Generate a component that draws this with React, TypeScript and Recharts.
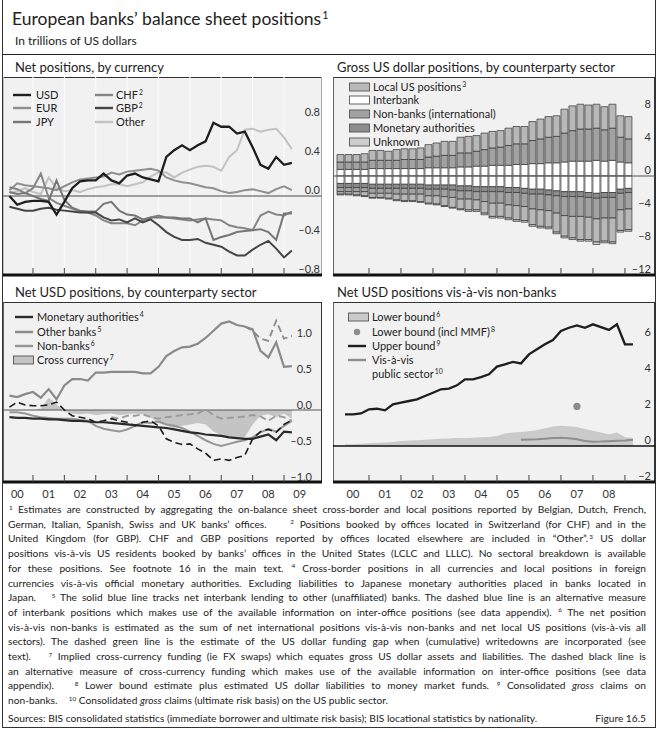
import React from 'react';
import {
  LineChart, ComposedChart, BarChart, Line, Bar, Area, Scatter,
  XAxis, YAxis, ReferenceLine, CartesianGrid,
} from 'recharts';

const FONT = 'Lato, "Open Sans", "DejaVu Sans", sans-serif';

// ---------------- time axes ----------------
const quarters = [
  2000.25, 2000.5, 2000.75, 2001, 2001.25, 2001.5, 2001.75, 2002, 2002.25, 2002.5,
  2002.75, 2003, 2003.25, 2003.5, 2003.75, 2004, 2004.25, 2004.5, 2004.75, 2005,
  2005.25, 2005.5, 2005.75, 2006, 2006.25, 2006.5, 2006.75, 2007, 2007.25, 2007.5,
  2007.75, 2008, 2008.25, 2008.5, 2008.75, 2009, 2009.25,
];
const barQuarters = [
  2000.125, 2000.375, 2000.625, 2000.875, 2001.125, 2001.375, 2001.625, 2001.875, 2002.125, 2002.375,
  2002.625, 2002.875, 2003.125, 2003.375, 2003.625, 2003.875, 2004.125, 2004.375, 2004.625, 2004.875,
  2005.125, 2005.375, 2005.625, 2005.875, 2006.125, 2006.375, 2006.625, 2006.875, 2007.125, 2007.375,
  2007.625, 2007.875, 2008.125, 2008.375, 2008.625, 2008.875, 2009.125,
];
const yearTicks = [2001, 2002, 2003, 2004, 2005, 2006, 2007, 2008, 2009];
const midYearsLeft = [2000.5, 2001.5, 2002.5, 2003.5, 2004.5, 2005.5, 2006.5, 2007.5, 2008.5, 2009.5];
const yearLabelsLeft = ['00', '01', '02', '03', '04', '05', '06', '07', '08', '09'];
const midYearsRight = [2000.5, 2001.5, 2002.5, 2003.5, 2004.5, 2005.5, 2006.5, 2007.5, 2008.5];
const yearLabelsRight = ['00', '01', '02', '03', '04', '05', '06', '07', '08'];

// ---------------- Panel 1: Net positions, by currency ----------------
const usd = [0.0, -0.09, -0.06, -0.05, -0.05, -0.06, -0.19, -0.06, 0.08, 0.15, 0.16, 0.16, 0.23, 0.16, 0.13, 0.21, 0.23, 0.19, 0.17, 0.15, 0.40, 0.47, 0.52, 0.47, 0.52, 0.56, 0.75, 0.71, 0.71, 0.64, 0.66, 0.50, 0.32, 0.28, 0.40, 0.32, 0.34];
const eur = [0.06, 0.13, 0.11, 0.10, 0.09, 0.08, 0.06, 0.10, 0.14, 0.17, 0.18, 0.19, 0.20, 0.24, 0.22, 0.25, 0.26, 0.27, 0.28, 0.26, 0.19, 0.16, 0.14, 0.13, 0.11, 0.09, 0.08, 0.05, 0.03, 0.04, 0.06, 0.07, 0.05, 0.03, 0.07, 0.10, 0.06];
const jpy = [0.04, 0.02, 0.03, 0.0, -0.03, -0.05, 0.16, -0.04, -0.12, -0.15, -0.16, -0.16, -0.08, -0.06, -0.15, -0.19, -0.20, -0.24, -0.22, -0.22, -0.22, -0.22, -0.23, -0.23, -0.27, -0.23, -0.45, -0.42, -0.40, -0.37, -0.36, -0.35, -0.34, -0.37, -0.45, -0.18, -0.18];
const chf = [0.09, 0.07, 0.03, 0.08, 0.23, -0.02, -0.07, -0.10, -0.13, -0.16, -0.17, -0.20, -0.25, -0.28, -0.28, -0.28, -0.30, -0.25, -0.22, -0.20, -0.22, -0.23, -0.24, -0.25, -0.24, -0.23, -0.24, -0.25, -0.30, -0.32, -0.33, -0.35, -0.20, -0.16, -0.19, -0.20, -0.16];
const gbp = [-0.11, -0.13, -0.15, -0.15, -0.13, -0.12, -0.14, -0.15, -0.16, -0.17, -0.17, -0.17, -0.22, -0.25, -0.24, -0.27, -0.23, -0.27, -0.24, -0.30, -0.37, -0.42, -0.45, -0.45, -0.44, -0.48, -0.50, -0.52, -0.57, -0.61, -0.61, -0.55, -0.50, -0.46, -0.54, -0.63, -0.56];
const other = [0.03, 0.05, 0.08, 0.04, 0.02, 0.19, 0.08, 0.05, 0.06, 0.04, 0.07, 0.09, 0.10, 0.12, 0.12, 0.10, 0.12, 0.14, 0.20, 0.24, 0.24, 0.19, 0.24, 0.27, 0.30, 0.31, 0.30, 0.26, 0.40, 0.47, 0.68, 0.69, 0.66, 0.68, 0.69, 0.60, 0.48];
const p1Ticks = [-0.8, -0.4, 0, 0.4, 0.8];
const p1Labels = ['\u20130.8', '\u20130.4', '0.0', '0.4', '0.8'];

// ---------------- Panel 2: Gross US dollar positions ----------------
const interbankA = [0.8, 0.8, 0.8, 0.8, 0.9, 0.9, 0.9, 0.9, 0.9, 0.9, 0.9, 1.0, 1.0, 1.0, 1.0, 1.1, 1.1, 1.2, 1.2, 1.3, 1.3, 1.3, 1.4, 1.4, 1.5, 1.5, 1.6, 1.6, 1.7, 1.8, 1.8, 1.8, 1.9, 1.8, 1.9, 1.7, 1.6];
const nonbanksA = [0.9, 0.9, 0.9, 0.9, 1.0, 1.0, 1.0, 1.0, 1.1, 1.1, 1.1, 1.3, 1.4, 1.5, 1.5, 1.7, 1.7, 1.8, 2.0, 2.1, 2.2, 2.4, 2.5, 2.5, 2.8, 3.0, 3.1, 3.2, 3.5, 3.7, 3.9, 3.9, 3.9, 3.8, 3.9, 3.0, 2.9];
const localA = [0.9, 0.9, 0.9, 1.0, 1.2, 1.2, 1.1, 1.3, 1.3, 1.3, 1.4, 1.5, 1.6, 1.7, 1.7, 1.9, 2.0, 1.9, 2.0, 2.0, 2.0, 2.1, 2.1, 2.1, 2.3, 2.4, 2.5, 2.5, 2.9, 3.0, 3.0, 2.9, 2.9, 2.8, 2.9, 2.6, 2.7];
const interbankL = [-0.9, -0.9, -0.9, -0.9, -1.0, -1.0, -1.0, -1.0, -1.0, -1.0, -1.0, -1.1, -1.1, -1.1, -1.1, -1.2, -1.2, -1.3, -1.3, -1.3, -1.3, -1.4, -1.4, -1.5, -1.6, -1.6, -1.7, -1.8, -1.9, -1.9, -1.9, -2.0, -2.1, -2.0, -2.0, -1.6, -1.5];
const monetaryL = [-0.5, -0.5, -0.5, -0.5, -0.5, -0.5, -0.5, -0.5, -0.5, -0.5, -0.5, -0.5, -0.5, -0.5, -0.6, -0.6, -0.6, -0.6, -0.6, -0.6, -0.6, -0.6, -0.6, -0.6, -0.6, -0.6, -0.6, -0.6, -0.6, -0.6, -0.6, -0.6, -0.6, -0.6, -0.6, -0.5, -0.5];
const nonbanksL = [-0.5, -0.5, -0.5, -0.5, -0.6, -0.6, -0.6, -0.7, -0.7, -0.7, -0.7, -0.8, -0.8, -0.9, -0.9, -1.0, -1.0, -1.0, -1.2, -1.4, -1.4, -1.5, -1.6, -1.6, -1.8, -1.9, -1.9, -2.1, -2.3, -2.4, -2.4, -2.4, -2.5, -2.5, -2.5, -2.0, -2.0];
const localL = [-0.3, -0.3, -0.4, -0.5, -0.5, -0.5, -0.6, -0.7, -0.8, -0.8, -0.9, -0.9, -1.0, -1.1, -1.2, -1.2, -1.3, -1.2, -1.4, -1.6, -1.6, -1.6, -1.7, -1.7, -1.9, -2.0, -2.0, -2.3, -2.5, -2.6, -2.8, -2.7, -2.8, -2.8, -2.9, -2.5, -2.5];
const unknownL = [-0.1, -0.1, -0.1, -0.1, -0.1, -0.1, -0.1, -0.1, -0.1, -0.1, -0.1, -0.1, -0.1, -0.1, -0.1, -0.1, -0.2, -0.2, -0.2, -0.2, -0.2, -0.2, -0.2, -0.2, -0.2, -0.2, -0.2, -0.2, -0.2, -0.2, -0.2, -0.2, -0.3, -0.2, -0.2, -0.2, -0.2];
const p2Ticks = [-12, -8, -4, 0, 4, 8];
const p2Labels = ['\u201312', '\u20138', '\u20134', '0', '4', '8'];

// ---------------- Panel 3: Net USD positions, by counterparty sector ----------------
const monetaryNet = [-0.10, -0.11, -0.11, -0.12, -0.12, -0.13, -0.13, -0.14, -0.15, -0.15, -0.16, -0.17, -0.17, -0.18, -0.19, -0.20, -0.21, -0.22, -0.23, -0.24, -0.25, -0.27, -0.29, -0.31, -0.32, -0.34, -0.35, -0.36, -0.38, -0.39, -0.40, -0.40, -0.37, -0.34, -0.42, -0.30, -0.31];
const otherBanks = [0.20, 0.18, 0.22, 0.25, 0.17, 0.29, 0.15, 0.34, 0.43, 0.43, 0.41, 0.52, 0.52, 0.53, 0.53, 0.53, 0.53, 0.51, 0.51, 0.60, 0.75, 0.82, 0.87, 0.88, 0.92, 1.00, 1.10, 1.20, 1.23, 1.18, 1.16, 1.12, 0.82, 0.73, 0.94, 0.60, 0.61];
const otherBanksAlt = [null, null, null, null, null, null, null, null, null, null, null, null, null, null, null, null, null, null, null, null, null, null, null, null, null, null, null, null, null, null, 1.16, 1.10, 0.99, 0.96, 1.24, 0.99, 1.03];
const nonBanksNet = [-0.03, -0.03, -0.05, -0.08, -0.10, -0.11, -0.12, -0.12, -0.12, -0.14, -0.15, -0.22, -0.26, -0.28, -0.30, -0.27, -0.22, -0.17, -0.18, -0.16, -0.20, -0.22, -0.25, -0.30, -0.36, -0.42, -0.47, -0.50, -0.47, -0.44, -0.42, -0.38, -0.31, -0.26, -0.30, -0.22, -0.15];
const nonBanksAlt = [null, null, null, null, null, null, null, null, null, null, null, null, null, -0.10, -0.12, -0.08, -0.08, -0.06, -0.10, -0.12, -0.10, -0.09, -0.07, -0.06, -0.05, 0.01, -0.07, -0.12, -0.11, -0.10, -0.09, -0.07, -0.09, -0.15, -0.08, -0.10, -0.15];
const crossCurrency = [0, 0, 0, 0, 0.02, 0.17, 0.08, -0.02, -0.05, -0.06, -0.05, -0.07, -0.06, -0.05, -0.07, -0.06, -0.05, -0.06, -0.10, -0.18, -0.22, -0.25, -0.22, -0.20, -0.18, -0.20, -0.30, -0.35, -0.38, -0.40, -0.38, -0.20, -0.08, -0.06, -0.10, -0.05, -0.12];
const crossCurrencyAlt = [0.04, 0.11, 0.07, 0.06, 0.06, 0.07, 0.11, 0.0, -0.08, -0.10, -0.12, -0.17, -0.15, -0.12, -0.15, -0.17, -0.22, -0.17, -0.15, -0.22, -0.40, -0.45, -0.48, -0.47, -0.54, -0.60, -0.70, -0.68, -0.70, -0.66, -0.63, -0.40, -0.30, -0.27, -0.31, -0.20, -0.14];
const p3Ticks = [-1.0, -0.5, 0, 0.5, 1.0];
const p3Labels = ['\u20131.0', '\u20130.5', '0.0', '0.5', '1.0'];

// ---------------- Panel 4: Net USD positions vis-a-vis non-banks ----------------
const upperBound = [1.76, 1.76, 1.81, 2.04, 2.07, 1.98, 2.31, 2.41, 2.50, 2.59, 2.78, 2.96, 3.15, 3.19, 3.37, 3.70, 3.70, 3.83, 3.98, 4.41, 4.54, 4.67, 4.59, 5.09, 5.37, 5.65, 5.89, 6.39, 6.57, 6.70, 6.57, 6.76, 6.60, 6.45, 6.76, 5.65, 5.65];
const lowerBound = [0.10, 0.10, 0.12, 0.15, 0.18, 0.20, 0.22, 0.28, 0.30, 0.32, 0.35, 0.38, 0.40, 0.42, 0.44, 0.45, 0.46, 0.48, 0.50, 0.55, 0.70, 0.75, 0.78, 0.82, 0.88, 0.98, 1.08, 1.12, 1.10, 1.05, 0.95, 0.85, 0.75, 0.65, 0.75, 0.50, 0.45];
const publicSector = [null, null, null, null, null, null, null, null, null, null, null, null, null, null, null, null, null, null, null, null, null, null, 0.35, 0.36, 0.37, 0.40, 0.44, 0.46, 0.43, 0.38, 0.28, 0.24, 0.25, 0.27, 0.29, 0.31, 0.35];
const mmfX = [2007.5];
const mmfY = [2.2];
const p4Ticks = [-2, 0, 2, 4, 6];
const p4Labels = ['\u20132', '0', '2', '4', '6'];

// ---------------- tables ----------------
const p1Rows = quarters.map((x, i) => ({ x, usd: usd[i], eur: eur[i], jpy: jpy[i], chf: chf[i], gbp: gbp[i], other: other[i] }));
const p2Rows = barQuarters.map((x, i) => ({
  x, ibA: interbankA[i], nbA: nonbanksA[i], locA: localA[i],
  ibL: interbankL[i], monL: monetaryL[i], nbL: nonbanksL[i], locL: localL[i], unkL: unknownL[i],
}));
const p3Rows = quarters.map((x, i) => ({
  x, mon: monetaryNet[i], ob: otherBanks[i], obAlt: otherBanksAlt[i], nb: nonBanksNet[i],
  nbAlt: nonBanksAlt[i], cc: crossCurrency[i], ccAlt: crossCurrencyAlt[i],
}));
const p4Rows = quarters.map((x, i) => ({ x, ub: upperBound[i], lb: lowerBound[i], pub: publicSector[i] }));
const mmfRows = mmfX.map((x, i) => ({ x, y: mmfY[i] }));

// ---------------- helpers ----------------
const makeYTick = (ticks: number[], labels: string[], pad: number, up: number) => (props: any) => {
  const { x, y, payload } = props;
  const i = ticks.indexOf(payload.value);
  return (
    <text x={x - pad} y={y - up} textAnchor="end" dominantBaseline="central" fontSize={11} fontFamily={FONT} fill="#333">
      {labels[i]}
    </text>
  );
};
// x-axis tick: year boundaries draw an upward tick mark, mid-years draw the label
const makeXTick = (labelTicks: number[], labels: string[]) => (props: any) => {
  const { x, y, payload } = props;
  const i = labelTicks.indexOf(payload.value);
  if (i >= 0) {
    return (
      <text x={x} y={y + 11} textAnchor="middle" dominantBaseline="central" fontSize={11} fontFamily={FONT} fill="#333">
        {labels[i]}
      </text>
    );
  }
  return <line x1={x} x2={x} y1={y} y2={y - 7} stroke="#444" strokeWidth={1} />;
};

const LEFT_DOMAIN: [number, number] = [2000.045, 2010.21];
const RIGHT_DOMAIN: [number, number] = [1999.875, 2009.94];

const timeAxis = (domain: [number, number], labelTicks: number[], labels: string[], height: number) => (
  <XAxis
    xAxisId="t" dataKey="x" type="number" domain={domain} ticks={[...yearTicks, ...labelTicks]} allowDataOverflow interval={0}
    tick={makeXTick(labelTicks, labels)} tickSize={0} tickMargin={0} height={height}
    axisLine={{ stroke: '#111', strokeWidth: 3 }} tickLine={false}
  />
);
const valueAxis = (domain: [number, number], ticks: number[], labels: string[], pad: number, up: number) => (
  <YAxis yAxisId="v" orientation="right" mirror type="number" domain={domain} ticks={ticks} allowDataOverflow interval={0}
    tickSize={0} tickMargin={0} width={40} axisLine={false} tickLine={false} tick={makeYTick(ticks, labels, pad, up)} />
);

const Sup = ({ t }: { t: string }) => (
  <span style={{ fontSize: '0.62em', position: 'relative', top: '-0.55em', marginLeft: 1 }}>{t}</span>
);

const Txt = ({ x, y, size, children, style }: any) => (
  <div style={{ position: 'absolute', left: x, top: y - 10, height: 20, lineHeight: '20px', fontSize: size, fontFamily: FONT, color: '#222', whiteSpace: 'nowrap', ...style }}>
    {children}
  </div>
);

const Key = ({ x, y, kind, color, dash, tx, children }: any) => (
  <>
    <svg style={{ position: 'absolute', left: x, top: y - 6 }} width={24} height={12}>
      {kind === 'line' && <line x1={0} x2={dash ? 20 : 18} y1={6} y2={6} stroke={color} strokeWidth={2.4} strokeDasharray={dash} />}
      {kind === 'box' && <rect x={0.5} y={2} width={20} height={8} fill={color} stroke="#555" strokeWidth={0.9} />}
      {kind === 'dot' && <circle cx={9} cy={6} r={3.2} fill={color} />}
    </svg>
    <Txt x={tx} y={y} size={11}>{children}</Txt>
  </>
);

const PlotBox = ({ x, y, w, h }: any) => (
  <div style={{
    position: 'absolute', left: x, top: y, width: w, height: h, boxSizing: 'border-box',
    background: '#f1f1f1', borderTop: '1.5px solid #333', borderLeft: '1px solid #666', borderRight: '1.2px solid #333',
  }} />
);

const footLines: React.ReactNode[] = [
  <><Sup t="1" /> Estimates are constructed by aggregating the on-balance sheet cross-border and local positions reported by Belgian, Dutch, French,</>,
  <>German, Italian, Spanish, Swiss and UK banks’ offices. {'\u00a0\u00a0\u00a0'}<Sup t="2" /> Positions booked by offices located in Switzerland (for CHF) and in the</>,
  <>United Kingdom (for GBP). CHF and GBP positions reported by offices located elsewhere are included in “Other”.<Sup t="3" /> US dollar</>,
  <>positions vis-à-vis US residents booked by banks’ offices in the United States (LCLC and LLLC). No sectoral breakdown is available</>,
  <>for these positions. See footnote 16 in the main text. <Sup t="4" /> Cross-border positions in all currencies and local positions in foreign</>,
  <>currencies vis-à-vis official monetary authorities. Excluding liabilities to Japanese monetary authorities placed in banks located in</>,
  <>Japan. {'\u00a0\u00a0'}<Sup t="5" /> The solid blue line tracks net interbank lending to other (unaffiliated) banks. The dashed blue line is an alternative measure</>,
  <>of interbank positions which makes use of the available information on inter-office positions (see data appendix). <Sup t="6" /> The net position</>,
  <>vis-à-vis non-banks is estimated as the sum of net international positions vis-à-vis non-banks and net local US positions (vis-à-vis all</>,
  <>sectors). The dashed green line is the estimate of the US dollar funding gap when (cumulative) writedowns are incorporated (see</>,
  <>text). {'\u00a0\u00a0'}<Sup t="7" /> Implied cross-currency funding (ie FX swaps) which equates gross US dollar assets and liabilities. The dashed black line is</>,
  <>an alternative measure of cross-currency funding which makes use of the available information on inter-office positions (see data</>,
  <>appendix). {'\u00a0\u00a0'}<Sup t="8" /> Lower bound estimate plus estimated US dollar liabilities to money market funds. <Sup t="9" /> Consolidated <i>gross</i> claims on</>,
  <>non-banks. {'\u00a0\u00a0\u00a0'}<Sup t="10" /> Consolidated <i>gross</i> claims (ultimate risk basis) on the US public sector.</>,
];

export default function App() {
  return (
    <div style={{ position: 'absolute', left: 0, top: 0, width: 658, height: 732, background: '#fff', overflow: 'hidden', fontFamily: FONT }}>
      {/* outer frame */}
      <div style={{ position: 'absolute', left: 2, top: 0, width: 654, height: 728, boxSizing: 'border-box', borderLeft: '1.5px solid #333', borderRight: '1.5px solid #333', borderBottom: '1.5px solid #333' }} />
      <div style={{ position: 'absolute', left: 2, top: 54, width: 654, height: 0, borderTop: '1.5px solid #222' }} />

      {/* titles */}
      <Txt x={12} y={19} size={17.5}>European banks’ balance sheet positions<Sup t="1" /></Txt>
      <Txt x={15} y={41} size={12}>In trillions of US dollars</Txt>
      <Txt x={15} y={67} size={13}>Net positions, by currency</Txt>
      <Txt x={337} y={67} size={13}>Gross US dollar positions, by counterparty sector</Txt>
      <Txt x={15} y={292} size={13}>Net USD positions, by counterparty sector</Txt>
      <Txt x={337} y={292} size={13}>Net USD positions vis-à-vis non-banks</Txt>

      {/* ---------- Panel 1 ---------- */}
      <PlotBox x={3} y={77} w={319} h={198} />
      <div style={{ position: 'absolute', left: 3, top: 77 }}>
        <LineChart width={319} height={201} data={p1Rows} margin={{ top: 0, right: 0, bottom: 0, left: 0 }}>
          <CartesianGrid xAxisId="t" yAxisId="v" horizontal={false} verticalPoints={undefined} stroke="#fbfbfb" strokeWidth={1.2} />
          {timeAxis(LEFT_DOMAIN, [], [], 3)}
          {valueAxis([-0.81, 1.22], p1Ticks, p1Labels, 2, 6)}
          <ReferenceLine xAxisId="t" yAxisId="v" y={0} stroke="#808080" strokeWidth={1.3} />
          <Line xAxisId="t" yAxisId="v" dataKey="other" stroke="#c2c2c2" strokeWidth={2} dot={false} isAnimationActive={false} />
          <Line xAxisId="t" yAxisId="v" dataKey="eur" stroke="#8f8f8f" strokeWidth={2} dot={false} isAnimationActive={false} />
          <Line xAxisId="t" yAxisId="v" dataKey="chf" stroke="#858585" strokeWidth={2} dot={false} isAnimationActive={false} />
          <Line xAxisId="t" yAxisId="v" dataKey="jpy" stroke="#767676" strokeWidth={2} dot={false} isAnimationActive={false} />
          <Line xAxisId="t" yAxisId="v" dataKey="gbp" stroke="#454545" strokeWidth={2} dot={false} isAnimationActive={false} />
          <Line xAxisId="t" yAxisId="v" dataKey="usd" stroke="#1e1e1e" strokeWidth={2.3} dot={false} isAnimationActive={false} />
        </LineChart>
      </div>
      <Key x={13} y={95} kind="line" color="#1e1e1e" tx={36}>USD</Key>
      <Key x={13} y={108} kind="line" color="#8f8f8f" tx={36}>EUR</Key>
      <Key x={13} y={122} kind="line" color="#767676" tx={36}>JPY</Key>
      <Key x={95} y={95} kind="line" color="#858585" tx={116}>CHF<Sup t="2" /></Key>
      <Key x={95} y={108} kind="line" color="#454545" tx={116}>GBP<Sup t="2" /></Key>
      <Key x={95} y={122} kind="line" color="#c2c2c2" tx={116}>Other</Key>

      {/* ---------- Panel 2 ---------- */}
      <PlotBox x={333} y={77} w={322} h={198} />
      <div style={{ position: 'absolute', left: 333, top: 77 }}>
        <BarChart width={322} height={201} data={p2Rows} stackOffset="sign" margin={{ top: 0, right: 0, bottom: 0, left: 0 }}>
          {timeAxis(RIGHT_DOMAIN, [], [], 3)}
          {valueAxis([-12, 12], p2Ticks, p2Labels, 4, 7)}
          <ReferenceLine xAxisId="t" yAxisId="v" y={0} stroke="#555" strokeWidth={1} />
          <Bar xAxisId="t" yAxisId="v" dataKey="ibA" stackId="s" barSize={7} fill="#ffffff" stroke="#333" strokeWidth={0.7} isAnimationActive={false} />
          <Bar xAxisId="t" yAxisId="v" dataKey="ibL" stackId="s" barSize={7} fill="#ffffff" stroke="#333" strokeWidth={0.7} isAnimationActive={false} />
          <Bar xAxisId="t" yAxisId="v" dataKey="monL" stackId="s" barSize={7} fill="#8c8c8c" stroke="#333" strokeWidth={0.7} isAnimationActive={false} />
          <Bar xAxisId="t" yAxisId="v" dataKey="nbA" stackId="s" barSize={7} fill="#a2a2a2" stroke="#333" strokeWidth={0.7} isAnimationActive={false} />
          <Bar xAxisId="t" yAxisId="v" dataKey="nbL" stackId="s" barSize={7} fill="#a2a2a2" stroke="#333" strokeWidth={0.7} isAnimationActive={false} />
          <Bar xAxisId="t" yAxisId="v" dataKey="locA" stackId="s" barSize={7} fill="#b8b8b8" stroke="#333" strokeWidth={0.7} isAnimationActive={false} />
          <Bar xAxisId="t" yAxisId="v" dataKey="locL" stackId="s" barSize={7} fill="#b8b8b8" stroke="#333" strokeWidth={0.7} isAnimationActive={false} />
          <Bar xAxisId="t" yAxisId="v" dataKey="unkL" stackId="s" barSize={7} fill="#cdcdcd" stroke="#333" strokeWidth={0.7} isAnimationActive={false} />
        </BarChart>
      </div>
      <Key x={349} y={87} kind="box" color="#b8b8b8" tx={373}>Local US positions<Sup t="3" /></Key>
      <Key x={349} y={100} kind="box" color="#ffffff" tx={373}>Interbank</Key>
      <Key x={349} y={114} kind="box" color="#a2a2a2" tx={373}>Non-banks (international)</Key>
      <Key x={349} y={128} kind="box" color="#8c8c8c" tx={373}>Monetary authorities</Key>
      <Key x={349} y={142} kind="box" color="#cdcdcd" tx={373}>Unknown</Key>

      {/* ---------- Panel 3 ---------- */}
      <PlotBox x={3} y={302} w={319} h={180} />
      <div style={{ position: 'absolute', left: 3, top: 302 }}>
        <ComposedChart width={319} height={203} data={p3Rows} margin={{ top: 0, right: 0, bottom: 0, left: 0 }}>
          {timeAxis(LEFT_DOMAIN, midYearsLeft, yearLabelsLeft, 23)}
          {valueAxis([-1.0, 1.5], p3Ticks, p3Labels, 10, 6)}
          <Area xAxisId="t" yAxisId="v" dataKey="cc" baseValue={0} fill="#c4c4c4" fillOpacity={1} stroke="none" isAnimationActive={false} />
          <ReferenceLine xAxisId="t" yAxisId="v" y={0} stroke="#555" strokeWidth={1} />
          <Line xAxisId="t" yAxisId="v" dataKey="nbAlt" stroke="#9a9a9a" strokeWidth={1.8} strokeDasharray="7 4" dot={false} isAnimationActive={false} />
          <Line xAxisId="t" yAxisId="v" dataKey="nb" stroke="#969696" strokeWidth={2} dot={false} isAnimationActive={false} />
          <Line xAxisId="t" yAxisId="v" dataKey="ccAlt" stroke="#1a1a1a" strokeWidth={1.6} strokeDasharray="7 4" dot={false} isAnimationActive={false} />
          <Line xAxisId="t" yAxisId="v" dataKey="mon" stroke="#2a2a2a" strokeWidth={2.2} dot={false} isAnimationActive={false} />
          <Line xAxisId="t" yAxisId="v" dataKey="obAlt" stroke="#8a8a8a" strokeWidth={1.8} strokeDasharray="7 4" dot={false} isAnimationActive={false} />
          <Line xAxisId="t" yAxisId="v" dataKey="ob" stroke="#8a8a8a" strokeWidth={2.2} dot={false} isAnimationActive={false} />
        </ComposedChart>
      </div>
      <Key x={15} y={317} kind="line" color="#2a2a2a" tx={37}>Monetary authorities<Sup t="4" /></Key>
      <Key x={15} y={332} kind="line" color="#8a8a8a" tx={37}>Other banks<Sup t="5" /></Key>
      <Key x={15} y={346} kind="line" color="#969696" tx={37}>Non-banks<Sup t="6" /></Key>
      <Key x={13} y={360} kind="box" color="#c4c4c4" tx={37}>Cross currency<Sup t="7" /></Key>

      {/* ---------- Panel 4 ---------- */}
      <PlotBox x={333} y={302} w={322} h={180} />
      <div style={{ position: 'absolute', left: 333, top: 302 }}>
        <ComposedChart width={322} height={203} data={p4Rows} margin={{ top: 0, right: 0, bottom: 0, left: 0 }}>
          {timeAxis(RIGHT_DOMAIN, midYearsRight, yearLabelsRight, 23)}
          {valueAxis([-2, 8], p4Ticks, p4Labels, 4, 7)}
          <Area xAxisId="t" yAxisId="v" dataKey="lb" baseValue={0} fill="#cacaca" fillOpacity={1} stroke="none" isAnimationActive={false} />
          <ReferenceLine xAxisId="t" yAxisId="v" y={0} stroke="#111" strokeWidth={1.6} />
          <Line xAxisId="t" yAxisId="v" dataKey="pub" stroke="#8e8e8e" strokeWidth={2} dot={false} isAnimationActive={false} />
          <Line xAxisId="t" yAxisId="v" dataKey="ub" stroke="#1e1e1e" strokeWidth={2.3} dot={false} isAnimationActive={false} />
          <Scatter xAxisId="t" yAxisId="v" data={mmfRows} dataKey="y" fill="#8c8c8c" isAnimationActive={false}
            shape={(p: any) => <circle cx={p.cx} cy={p.cy} r={3.6} fill="#8c8c8c" />} />
        </ComposedChart>
      </div>
      <Key x={348} y={317} kind="box" color="#cacaca" tx={372}>Lower bound<Sup t="6" /></Key>
      <Key x={348} y={332} kind="dot" color="#8c8c8c" tx={372}>Lower bound (incl MMF)<Sup t="8" /></Key>
      <Key x={348} y={346} kind="line" color="#1e1e1e" tx={372}>Upper bound<Sup t="9" /></Key>
      <Key x={348} y={360} kind="line" color="#8e8e8e" tx={372}>Vis-à-vis</Key>
      <Txt x={372} y={374} size={11}>public sector<Sup t="10" /></Txt>

      {/* ---------- footnotes ---------- */}
      {footLines.map((ln, i) => (
        <div key={i} style={{
          position: 'absolute', left: 8, top: 502 + i * 14.7, width: 638, height: 14, lineHeight: '14px',
          fontSize: 10.2, fontFamily: FONT, color: '#222',
          textAlign: i === footLines.length - 1 ? 'left' : 'justify',
          textAlignLast: i === footLines.length - 1 ? 'left' : 'justify',
        } as any}>{ln}</div>
      ))}
      <div style={{ position: 'absolute', left: 8, top: 711, width: 638, height: 14, lineHeight: '14px', fontSize: 10.2, fontFamily: FONT, color: '#222', display: 'flex', justifyContent: 'space-between' }}>
        <span>Sources: BIS consolidated statistics (immediate borrower and ultimate risk basis); BIS locational statistics by nationality.</span>
        <span>Figure 16.5</span>
      </div>
    </div>
  );
}
